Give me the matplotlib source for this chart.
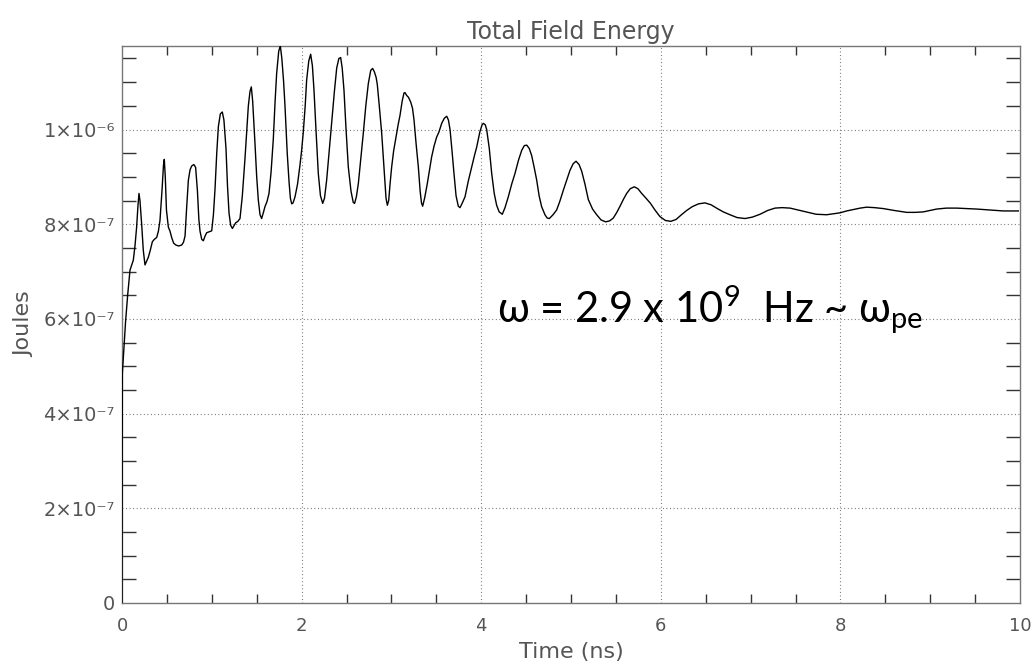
import numpy as np
import matplotlib
matplotlib.use("Agg")
import matplotlib.pyplot as plt
from matplotlib.ticker import FixedLocator, FuncFormatter

plt.rcParams["mathtext.fontset"] = "custom"
plt.rcParams["mathtext.rm"] = "Lato"
plt.rcParams["mathtext.it"] = "Lato:italic"

# ---- data (time in ns, energy in units of 1e-7 J) ----
time_ns = [0.0, 0.004, 0.02, 0.04, 0.063, 0.089, 0.11, 0.126, 0.145, 0.163, 0.178, 0.189,
           0.2, 0.219, 0.237, 0.256, 0.275, 0.293, 0.315, 0.338, 0.36, 0.386, 0.405, 0.423,
           0.445, 0.462, 0.471, 0.482, 0.495, 0.516, 0.535, 0.553, 0.575, 0.6, 0.63, 0.665,
           0.685, 0.702, 0.72, 0.739, 0.758, 0.776, 0.8, 0.82, 0.84, 0.856, 0.869, 0.888,
           0.906, 0.925, 0.943, 0.97, 0.999, 1.018, 1.036, 1.055, 1.073, 1.095, 1.117, 1.135,
           1.158, 1.175, 1.192, 1.21, 1.229, 1.25, 1.266, 1.29, 1.314, 1.34, 1.37, 1.39,
           1.407, 1.425, 1.44, 1.455, 1.47, 1.481, 1.5, 1.518, 1.537, 1.555, 1.575, 1.592,
           1.615, 1.637, 1.66, 1.685, 1.705, 1.722, 1.745, 1.763, 1.78, 1.8, 1.815, 1.84,
           1.86, 1.875, 1.89, 1.905, 1.927, 1.955, 1.982, 2.0, 2.019, 2.04, 2.056, 2.08,
           2.101, 2.12, 2.138, 2.16, 2.186, 2.21, 2.235, 2.255, 2.279, 2.305, 2.335, 2.365,
           2.391, 2.415, 2.435, 2.452, 2.472, 2.495, 2.52, 2.55, 2.575, 2.59, 2.61, 2.632,
           2.66, 2.687, 2.715, 2.743, 2.77, 2.791, 2.81, 2.83, 2.843, 2.865, 2.892, 2.92,
           2.94, 2.955, 2.97, 2.985, 3.003, 3.025, 3.051, 3.075, 3.096, 3.12, 3.14, 3.151,
           3.17, 3.19, 3.215, 3.235, 3.252, 3.275, 3.3, 3.32, 3.335, 3.348, 3.37, 3.4,
           3.425, 3.448, 3.475, 3.504, 3.53, 3.56, 3.59, 3.616, 3.635, 3.653, 3.675, 3.697,
           3.72, 3.745, 3.764, 3.79, 3.82, 3.855, 3.894, 3.925, 3.95, 3.985, 4.01, 4.024,
           4.045, 4.061, 4.09, 4.117, 4.145, 4.172, 4.2, 4.235, 4.265, 4.302, 4.34, 4.376,
           4.415, 4.451, 4.48, 4.507, 4.535, 4.562, 4.59, 4.618, 4.645, 4.673, 4.71, 4.735,
           4.759, 4.8, 4.84, 4.875, 4.915, 4.955, 4.989, 5.025, 5.056, 5.09, 5.119, 5.155,
           5.193, 5.24, 5.286, 5.335, 5.386, 5.43, 5.471, 5.51, 5.546, 5.585, 5.62, 5.66,
           5.705, 5.745, 5.787, 5.835, 5.885, 5.935, 5.991, 6.05, 6.11, 6.17, 6.23, 6.288,
           6.35, 6.42, 6.492, 6.56, 6.63, 6.696, 6.77, 6.85, 6.938, 7.02, 7.105, 7.19,
           7.272, 7.35, 7.439, 7.53, 7.624, 7.73, 7.847, 7.92, 7.995, 8.07, 8.144, 8.22,
           8.292, 8.38, 8.478, 8.6, 8.738, 8.83, 8.923, 9.0, 9.072, 9.18, 9.295, 9.41,
           9.518, 9.66, 9.814, 9.981]
energy_e7 = [0.0, 4.85, 5.35, 5.95, 6.5, 7.03, 7.15, 7.24, 7.55, 7.94, 8.4, 8.65,
             8.5, 8.0, 7.45, 7.14, 7.22, 7.3, 7.45, 7.63, 7.68, 7.72, 7.85, 8.08,
             8.7, 9.25, 9.37, 9.0, 8.3, 7.94, 7.85, 7.72, 7.6, 7.56, 7.54, 7.56,
             7.62, 7.75, 8.35, 8.93, 9.15, 9.23, 9.26, 9.2, 8.7, 8.1, 7.85, 7.68,
             7.65, 7.75, 7.82, 7.84, 7.86, 8.2, 8.75, 9.5, 10.06, 10.33, 10.37, 10.2,
             9.6, 8.8, 8.23, 7.98, 7.91, 7.98, 8.03, 8.06, 8.12, 8.6, 9.4, 10.0,
             10.5, 10.8, 10.9, 10.6, 10.1, 9.7, 9.0, 8.51, 8.2, 8.12, 8.25, 8.37,
             8.48, 8.65, 9.1, 9.8, 10.6, 11.18, 11.65, 11.77, 11.5, 11.0, 10.5, 9.5,
             8.9, 8.55, 8.43, 8.45, 8.58, 8.85, 9.25, 9.55, 9.95, 10.5, 11.04, 11.45,
             11.59, 11.35, 10.83, 10.0, 9.07, 8.6, 8.44, 8.55, 8.93, 9.5, 10.15, 10.8,
             11.3, 11.5, 11.52, 11.3, 10.83, 10.0, 9.21, 8.7, 8.46, 8.44, 8.58, 8.86,
             9.4, 9.92, 10.5, 10.97, 11.25, 11.29, 11.22, 11.1, 10.95, 10.5, 9.92, 9.1,
             8.55, 8.4, 8.5, 8.85, 9.21, 9.55, 9.84, 10.1, 10.3, 10.6, 10.77, 10.78,
             10.72, 10.68, 10.58, 10.45, 10.2, 9.7, 9.21, 8.7, 8.45, 8.38, 8.55, 8.86,
             9.15, 9.42, 9.65, 9.84, 9.95, 10.13, 10.24, 10.28, 10.2, 10.0, 9.55, 9.07,
             8.6, 8.38, 8.35, 8.45, 8.58, 8.9, 9.21, 9.45, 9.63, 9.95, 10.1, 10.13,
             10.1, 10.0, 9.6, 9.07, 8.65, 8.4, 8.26, 8.21, 8.35, 8.58, 8.85, 9.07,
             9.35, 9.56, 9.66, 9.67, 9.6, 9.45, 9.2, 8.93, 8.6, 8.37, 8.2, 8.13,
             8.12, 8.2, 8.3, 8.48, 8.72, 8.95, 9.14, 9.28, 9.33, 9.26, 9.12, 8.85,
             8.52, 8.32, 8.2, 8.09, 8.05, 8.07, 8.13, 8.25, 8.38, 8.53, 8.65, 8.75,
             8.79, 8.75, 8.65, 8.55, 8.44, 8.3, 8.16, 8.08, 8.06, 8.1, 8.2, 8.29,
             8.37, 8.43, 8.45, 8.41, 8.33, 8.26, 8.2, 8.14, 8.12, 8.15, 8.21, 8.29,
             8.34, 8.35, 8.34, 8.3, 8.26, 8.21, 8.2, 8.22, 8.24, 8.28, 8.31, 8.34,
             8.36, 8.35, 8.33, 8.29, 8.25, 8.25, 8.26, 8.29, 8.32, 8.34, 8.34, 8.33,
             8.32, 8.3, 8.28, 8.28]

x_major = [0, 2, 4, 6, 8, 10]
x_gridlines = [2, 4, 6, 8]
y_major_e7 = [0, 2, 4, 6, 8, 10]
y_gridlines_e7 = [2, 4, 6, 8, 10]
title_text = "Total Field Energy"
xlabel_text = "Time (ns)"
ylabel_text = "Joules"
annotation = r"ω = 2.9 x 10$^{\mathrm{9}}$  Hz ~ ω$_{\mathrm{pe}}$"

t = np.array(time_ns)
E = np.array(energy_e7) * 1e-7

W, H = 1033, 667
fig = plt.figure(figsize=(W / 100, H / 100), dpi=100)
ax = fig.add_axes([122 / W, 1 - 603 / H, (1020 - 122) / W, (603 - 45.7) / H])

txt_col = "#555555"
ax.plot(t, E, color="black", lw=1.0, solid_joinstyle="round", zorder=3)

ax.set_xlim(0, 10)
ax.set_ylim(0, E.max())

ax.xaxis.set_major_locator(FixedLocator(x_major))
ax.xaxis.set_minor_locator(FixedLocator([v * 0.5 for v in range(1, 20) if v % 4 != 0]))
ax.yaxis.set_major_locator(FixedLocator([v * 1e-7 for v in y_major_e7]))
ax.yaxis.set_minor_locator(FixedLocator([v * 0.5e-7 for v in range(1, 24) if v % 4 != 0]))

SUP = str.maketrans("-0123456789", "⁻⁰¹²³⁴⁵⁶⁷⁸⁹")

def yfmt(v, pos):
    if abs(v) < 1e-12:
        return "0"
    exp = int(np.floor(np.log10(abs(v)) + 1e-9))
    mant = v / 10 ** exp
    return "%d×10%s" % (round(mant), str(exp).translate(SUP))

ax.yaxis.set_major_formatter(FuncFormatter(yfmt))
ax.xaxis.set_major_formatter(FuncFormatter(lambda v, p: "%d" % round(v)))

ax.tick_params(which="major", length=0, labelcolor=txt_col)
ax.tick_params(axis="x", which="major", pad=10, labelsize=13)
ax.tick_params(axis="y", which="major", pad=5, labelsize=14)
ax.tick_params(which="minor", direction="in", top=True, right=True,
               width=1.0, color="#333333")
ax.tick_params(axis="x", which="minor", length=6.5)
ax.tick_params(axis="y", which="minor", length=10)

for xv in x_gridlines:
    ax.axvline(xv, color="#666666", lw=0.8, ls=(0, (0.8, 2.4)), zorder=1)
for yv in y_gridlines_e7:
    ax.axhline(yv * 1e-7, color="#666666", lw=0.8, ls=(0, (0.8, 2.4)), zorder=1)

for s in ax.spines.values():
    s.set_color("#777777")
    s.set_linewidth(1.0)

ax.set_title(title_text, fontsize=17, color=txt_col, pad=5)
ax.set_xlabel(xlabel_text, fontsize=16, color=txt_col, labelpad=5)
ax.set_ylabel(ylabel_text, fontsize=16, color=txt_col, labelpad=7)

fig.text(497 / W, 1 - 322 / H, annotation,
         fontsize=30, family="Lato", color="black", ha="left", va="baseline")

fig.savefig("out.png", dpi=100)
